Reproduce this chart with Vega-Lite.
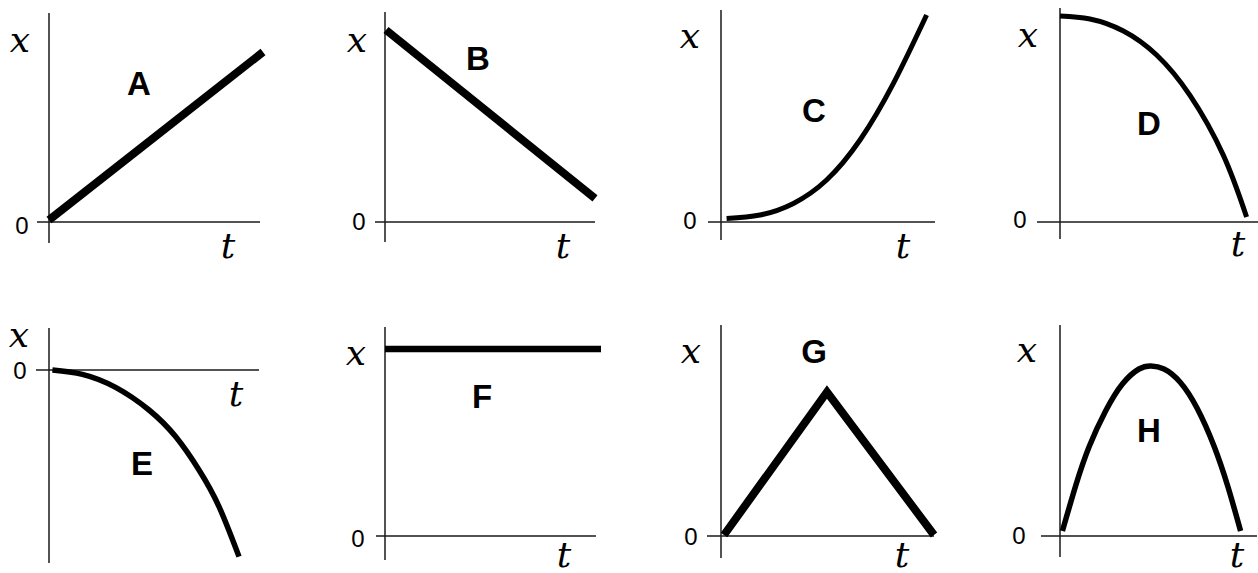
{
"$schema": "https://vega.github.io/schema/vega-lite/v6.json",
"padding": 0,
"background": "#ffffff",
"bounds": "flush",
"columns": 4,
"spacing": {"row": 55, "column": 37},
"config": {"view": {"stroke": null}},
"datasets": {
"curves": [
{"panel":"A","t":0,"x":0.01},{"panel":"A","t":1.07,"x":0.85},
{"panel":"B","t":0.005,"x":0.96},{"panel":"B","t":1.05,"x":0.118},
{"panel":"C","t":0.028,"x":0.018},{"panel":"C","t":0.195,"x":0.035},{"panel":"C","t":0.362,"x":0.093},{"panel":"C","t":0.528,"x":0.21},{"panel":"C","t":0.695,"x":0.41},{"panel":"C","t":0.862,"x":0.693},{"panel":"C","t":1.028,"x":1.035},
{"panel":"D","t":0,"x":1.03},{"panel":"D","t":0.15,"x":1.015},{"panel":"D","t":0.317,"x":0.955},{"panel":"D","t":0.483,"x":0.835},{"panel":"D","t":0.65,"x":0.633},{"panel":"D","t":0.817,"x":0.333},{"panel":"D","t":0.933,"x":0.025},
{"panel":"E","t":0.017,"x":0},{"panel":"E","t":0.167,"x":-0.022},{"panel":"E","t":0.333,"x":-0.087},{"panel":"E","t":0.5,"x":-0.2},{"panel":"E","t":0.633,"x":-0.333},{"panel":"E","t":0.75,"x":-0.5},{"panel":"E","t":0.85,"x":-0.683},{"panel":"E","t":0.95,"x":-0.933},
{"panel":"F","t":0,"x":0.935},{"panel":"F","t":1.08,"x":0.935},
{"panel":"G","t":0.015,"x":0.005},{"panel":"G","t":0.53,"x":0.72},{"panel":"G","t":1.065,"x":0.005},
{"panel":"H","t":0.012,"x":0.025},{"panel":"H","t":0.078,"x":0.25},{"panel":"H","t":0.145,"x":0.445},{"panel":"H","t":0.228,"x":0.625},{"panel":"H","t":0.312,"x":0.76},{"panel":"H","t":0.395,"x":0.835},{"panel":"H","t":0.455,"x":0.85},{"panel":"H","t":0.52,"x":0.835},{"panel":"H","t":0.6,"x":0.77},{"panel":"H","t":0.685,"x":0.64},{"panel":"H","t":0.77,"x":0.45},{"panel":"H","t":0.84,"x":0.245},{"panel":"H","t":0.903,"x":0.025}
],
"vaxes": [
{"panel":"A","t":0,"x":1.045,"x2":-0.105},
{"panel":"B","t":0,"x":1.05,"x2":-0.1},
{"panel":"C","t":0,"x":1.06,"x2":-0.09},
{"panel":"D","t":0,"x":1.07,"x2":-0.085},
{"panel":"E","t":0,"x":0.21,"x2":-0.965},
{"panel":"F","t":0,"x":1.045,"x2":-0.12},
{"panel":"G","t":0,"x":1.055,"x2":-0.11},
{"panel":"H","t":0,"x":1.055,"x2":-0.105}
],
"haxes": [
{"panel":"A","t":-0.06,"t2":1.055,"x":0},
{"panel":"B","t":-0.05,"t2":1.05,"x":0},
{"panel":"C","t":-0.065,"t2":1.07,"x":0},
{"panel":"D","t":-0.115,"t2":0.99,"x":0},
{"panel":"E","t":-0.065,"t2":1.05,"x":0},
{"panel":"F","t":-0.045,"t2":1.055,"x":0},
{"panel":"G","t":-0.07,"t2":1.065,"x":0},
{"panel":"H","t":-0.095,"t2":0.985,"x":0}
],
"labels": [
{"panel":"A","kind":"math","label":"x","t":-0.145,"x":0.905},{"panel":"A","kind":"math","label":"t","t":0.895,"x":-0.125},{"panel":"A","kind":"zero","label":"0","t":-0.135,"x":-0.025},{"panel":"A","kind":"letter","label":"A","t":0.45,"x":0.685},
{"panel":"B","kind":"math","label":"x","t":-0.14,"x":0.905},{"panel":"B","kind":"math","label":"t","t":0.89,"x":-0.125},{"panel":"B","kind":"zero","label":"0","t":-0.13,"x":-0.005},{"panel":"B","kind":"letter","label":"B","t":0.465,"x":0.81},
{"panel":"C","kind":"math","label":"x","t":-0.155,"x":0.925},{"panel":"C","kind":"math","label":"t","t":0.91,"x":-0.125},{"panel":"C","kind":"zero","label":"0","t":-0.155,"x":0},{"panel":"C","kind":"letter","label":"C","t":0.465,"x":0.55},
{"panel":"D","kind":"math","label":"x","t":-0.16,"x":0.93},{"panel":"D","kind":"math","label":"t","t":0.89,"x":-0.115},{"panel":"D","kind":"zero","label":"0","t":-0.2,"x":0.005},{"panel":"D","kind":"letter","label":"D","t":0.445,"x":0.485},
{"panel":"E","kind":"math","label":"x","t":-0.15,"x":0.17},{"panel":"E","kind":"math","label":"t","t":0.935,"x":-0.125},{"panel":"E","kind":"zero","label":"0","t":-0.145,"x":-0.01},{"panel":"E","kind":"letter","label":"E","t":0.465,"x":-0.475},
{"panel":"F","kind":"math","label":"x","t":-0.145,"x":0.91},{"panel":"F","kind":"math","label":"t","t":0.895,"x":-0.1},{"panel":"F","kind":"zero","label":"0","t":-0.135,"x":-0.02},{"panel":"F","kind":"letter","label":"F","t":0.485,"x":0.69},
{"panel":"G","kind":"math","label":"x","t":-0.15,"x":0.92},{"panel":"G","kind":"math","label":"t","t":0.905,"x":-0.1},{"panel":"G","kind":"zero","label":"0","t":-0.15,"x":-0.01},{"panel":"G","kind":"letter","label":"G","t":0.465,"x":0.915},
{"panel":"H","kind":"math","label":"x","t":-0.165,"x":0.925},{"panel":"H","kind":"math","label":"t","t":0.885,"x":-0.1},{"panel":"H","kind":"zero","label":"0","t":-0.205,"x":-0.005},{"panel":"H","kind":"letter","label":"H","t":0.445,"x":0.52}
]
},
"concat": [
{"width":299,"height":259,
 "encoding":{"x":{"field":"t","type":"quantitative","axis":null,"scale":{"domain":[-0.245,1.25],"nice":false,"zero":false}},"y":{"field":"x","type":"quantitative","axis":null,"scale":{"domain":[-0.185,1.11],"nice":false,"zero":false}}},
 "layer":[
  {"data":{"name":"vaxes"},"transform":[{"filter":"datum.panel==='A'"}],"mark":{"type":"rule","color":"#1a1a1a","strokeWidth":1.5},"encoding":{"y2":{"field":"x2"}}},
  {"data":{"name":"haxes"},"transform":[{"filter":"datum.panel==='A'"}],"mark":{"type":"rule","color":"#1a1a1a","strokeWidth":1.5},"encoding":{"x2":{"field":"t2"}}},
  {"data":{"name":"curves"},"transform":[{"filter":"datum.panel==='A'"}],"mark":{"type":"line","color":"#000","strokeWidth":8,"strokeCap":"butt","interpolate":"linear"}},
  {"data":{"name":"labels"},"transform":[{"filter":"datum.panel==='A' && datum.kind==='math'"}],"mark":{"type":"text","font":"DejaVu Serif","fontStyle":"italic","fontSize":36,"color":"#000"},"encoding":{"text":{"field":"label"}}},
  {"data":{"name":"labels"},"transform":[{"filter":"datum.panel==='A' && datum.kind==='zero'"}],"mark":{"type":"text","font":"Liberation Sans","fontSize":24,"color":"#000"},"encoding":{"text":{"field":"label"}}},
  {"data":{"name":"labels"},"transform":[{"filter":"datum.panel==='A' && datum.kind==='letter'"}],"mark":{"type":"text","font":"Liberation Sans","fontWeight":"bold","fontSize":33,"color":"#000"},"encoding":{"text":{"field":"label"}}}
 ]},
{"width":299,"height":259,
 "encoding":{"x":{"field":"t","type":"quantitative","axis":null,"scale":{"domain":[-0.245,1.25],"nice":false,"zero":false}},"y":{"field":"x","type":"quantitative","axis":null,"scale":{"domain":[-0.185,1.11],"nice":false,"zero":false}}},
 "layer":[
  {"data":{"name":"vaxes"},"transform":[{"filter":"datum.panel==='B'"}],"mark":{"type":"rule","color":"#1a1a1a","strokeWidth":1.5},"encoding":{"y2":{"field":"x2"}}},
  {"data":{"name":"haxes"},"transform":[{"filter":"datum.panel==='B'"}],"mark":{"type":"rule","color":"#1a1a1a","strokeWidth":1.5},"encoding":{"x2":{"field":"t2"}}},
  {"data":{"name":"curves"},"transform":[{"filter":"datum.panel==='B'"}],"mark":{"type":"line","color":"#000","strokeWidth":8,"strokeCap":"butt","interpolate":"linear"}},
  {"data":{"name":"labels"},"transform":[{"filter":"datum.panel==='B' && datum.kind==='math'"}],"mark":{"type":"text","font":"DejaVu Serif","fontStyle":"italic","fontSize":36,"color":"#000"},"encoding":{"text":{"field":"label"}}},
  {"data":{"name":"labels"},"transform":[{"filter":"datum.panel==='B' && datum.kind==='zero'"}],"mark":{"type":"text","font":"Liberation Sans","fontSize":24,"color":"#000"},"encoding":{"text":{"field":"label"}}},
  {"data":{"name":"labels"},"transform":[{"filter":"datum.panel==='B' && datum.kind==='letter'"}],"mark":{"type":"text","font":"Liberation Sans","fontWeight":"bold","fontSize":33,"color":"#000"},"encoding":{"text":{"field":"label"}}}
 ]},
{"width":302,"height":259,
 "encoding":{"x":{"field":"t","type":"quantitative","axis":null,"scale":{"domain":[-0.245,1.265],"nice":false,"zero":false}},"y":{"field":"x","type":"quantitative","axis":null,"scale":{"domain":[-0.185,1.11],"nice":false,"zero":false}}},
 "layer":[
  {"data":{"name":"vaxes"},"transform":[{"filter":"datum.panel==='C'"}],"mark":{"type":"rule","color":"#1a1a1a","strokeWidth":1.5},"encoding":{"y2":{"field":"x2"}}},
  {"data":{"name":"haxes"},"transform":[{"filter":"datum.panel==='C'"}],"mark":{"type":"rule","color":"#1a1a1a","strokeWidth":1.5},"encoding":{"x2":{"field":"t2"}}},
  {"data":{"name":"curves"},"transform":[{"filter":"datum.panel==='C'"}],"mark":{"type":"line","color":"#000","strokeWidth":5,"strokeCap":"butt","interpolate":"natural"}},
  {"data":{"name":"labels"},"transform":[{"filter":"datum.panel==='C' && datum.kind==='math'"}],"mark":{"type":"text","font":"DejaVu Serif","fontStyle":"italic","fontSize":36,"color":"#000"},"encoding":{"text":{"field":"label"}}},
  {"data":{"name":"labels"},"transform":[{"filter":"datum.panel==='C' && datum.kind==='zero'"}],"mark":{"type":"text","font":"Liberation Sans","fontSize":24,"color":"#000"},"encoding":{"text":{"field":"label"}}},
  {"data":{"name":"labels"},"transform":[{"filter":"datum.panel==='C' && datum.kind==='letter'"}],"mark":{"type":"text","font":"Liberation Sans","fontWeight":"bold","fontSize":33,"color":"#000"},"encoding":{"text":{"field":"label"}}}
 ]},
{"width":247,"height":259,
 "encoding":{"x":{"field":"t","type":"quantitative","axis":null,"scale":{"domain":[-0.245,0.99],"nice":false,"zero":false}},"y":{"field":"x","type":"quantitative","axis":null,"scale":{"domain":[-0.185,1.11],"nice":false,"zero":false}}},
 "layer":[
  {"data":{"name":"vaxes"},"transform":[{"filter":"datum.panel==='D'"}],"mark":{"type":"rule","color":"#1a1a1a","strokeWidth":1.5},"encoding":{"y2":{"field":"x2"}}},
  {"data":{"name":"haxes"},"transform":[{"filter":"datum.panel==='D'"}],"mark":{"type":"rule","color":"#1a1a1a","strokeWidth":1.5},"encoding":{"x2":{"field":"t2"}}},
  {"data":{"name":"curves"},"transform":[{"filter":"datum.panel==='D'"}],"mark":{"type":"line","color":"#000","strokeWidth":5,"strokeCap":"butt","interpolate":"natural"}},
  {"data":{"name":"labels"},"transform":[{"filter":"datum.panel==='D' && datum.kind==='math'"}],"mark":{"type":"text","font":"DejaVu Serif","fontStyle":"italic","fontSize":36,"color":"#000"},"encoding":{"text":{"field":"label"}}},
  {"data":{"name":"labels"},"transform":[{"filter":"datum.panel==='D' && datum.kind==='zero'"}],"mark":{"type":"text","font":"Liberation Sans","fontSize":24,"color":"#000"},"encoding":{"text":{"field":"label"}}},
  {"data":{"name":"labels"},"transform":[{"filter":"datum.panel==='D' && datum.kind==='letter'"}],"mark":{"type":"text","font":"Liberation Sans","fontWeight":"bold","fontSize":33,"color":"#000"},"encoding":{"text":{"field":"label"}}}
 ]},
{"width":299,"height":259,
 "encoding":{"x":{"field":"t","type":"quantitative","axis":null,"scale":{"domain":[-0.245,1.25],"nice":false,"zero":false}},"y":{"field":"x","type":"quantitative","axis":null,"scale":{"domain":[-1.015,0.28],"nice":false,"zero":false}}},
 "layer":[
  {"data":{"name":"vaxes"},"transform":[{"filter":"datum.panel==='E'"}],"mark":{"type":"rule","color":"#1a1a1a","strokeWidth":1.5},"encoding":{"y2":{"field":"x2"}}},
  {"data":{"name":"haxes"},"transform":[{"filter":"datum.panel==='E'"}],"mark":{"type":"rule","color":"#1a1a1a","strokeWidth":1.5},"encoding":{"x2":{"field":"t2"}}},
  {"data":{"name":"curves"},"transform":[{"filter":"datum.panel==='E'"}],"mark":{"type":"line","color":"#000","strokeWidth":5.5,"strokeCap":"butt","interpolate":"natural"}},
  {"data":{"name":"labels"},"transform":[{"filter":"datum.panel==='E' && datum.kind==='math'"}],"mark":{"type":"text","font":"DejaVu Serif","fontStyle":"italic","fontSize":36,"color":"#000"},"encoding":{"text":{"field":"label"}}},
  {"data":{"name":"labels"},"transform":[{"filter":"datum.panel==='E' && datum.kind==='zero'"}],"mark":{"type":"text","font":"Liberation Sans","fontSize":24,"color":"#000"},"encoding":{"text":{"field":"label"}}},
  {"data":{"name":"labels"},"transform":[{"filter":"datum.panel==='E' && datum.kind==='letter'"}],"mark":{"type":"text","font":"Liberation Sans","fontWeight":"bold","fontSize":33,"color":"#000"},"encoding":{"text":{"field":"label"}}}
 ]},
{"width":299,"height":259,
 "encoding":{"x":{"field":"t","type":"quantitative","axis":null,"scale":{"domain":[-0.245,1.25],"nice":false,"zero":false}},"y":{"field":"x","type":"quantitative","axis":null,"scale":{"domain":[-0.185,1.11],"nice":false,"zero":false}}},
 "layer":[
  {"data":{"name":"vaxes"},"transform":[{"filter":"datum.panel==='F'"}],"mark":{"type":"rule","color":"#1a1a1a","strokeWidth":1.5},"encoding":{"y2":{"field":"x2"}}},
  {"data":{"name":"haxes"},"transform":[{"filter":"datum.panel==='F'"}],"mark":{"type":"rule","color":"#1a1a1a","strokeWidth":1.5},"encoding":{"x2":{"field":"t2"}}},
  {"data":{"name":"curves"},"transform":[{"filter":"datum.panel==='F'"}],"mark":{"type":"line","color":"#000","strokeWidth":6.5,"strokeCap":"butt","interpolate":"linear"}},
  {"data":{"name":"labels"},"transform":[{"filter":"datum.panel==='F' && datum.kind==='math'"}],"mark":{"type":"text","font":"DejaVu Serif","fontStyle":"italic","fontSize":36,"color":"#000"},"encoding":{"text":{"field":"label"}}},
  {"data":{"name":"labels"},"transform":[{"filter":"datum.panel==='F' && datum.kind==='zero'"}],"mark":{"type":"text","font":"Liberation Sans","fontSize":24,"color":"#000"},"encoding":{"text":{"field":"label"}}},
  {"data":{"name":"labels"},"transform":[{"filter":"datum.panel==='F' && datum.kind==='letter'"}],"mark":{"type":"text","font":"Liberation Sans","fontWeight":"bold","fontSize":33,"color":"#000"},"encoding":{"text":{"field":"label"}}}
 ]},
{"width":302,"height":259,
 "encoding":{"x":{"field":"t","type":"quantitative","axis":null,"scale":{"domain":[-0.245,1.265],"nice":false,"zero":false}},"y":{"field":"x","type":"quantitative","axis":null,"scale":{"domain":[-0.185,1.11],"nice":false,"zero":false}}},
 "layer":[
  {"data":{"name":"vaxes"},"transform":[{"filter":"datum.panel==='G'"}],"mark":{"type":"rule","color":"#1a1a1a","strokeWidth":1.5},"encoding":{"y2":{"field":"x2"}}},
  {"data":{"name":"haxes"},"transform":[{"filter":"datum.panel==='G'"}],"mark":{"type":"rule","color":"#1a1a1a","strokeWidth":1.5},"encoding":{"x2":{"field":"t2"}}},
  {"data":{"name":"curves"},"transform":[{"filter":"datum.panel==='G'"}],"mark":{"type":"line","color":"#000","strokeWidth":8,"strokeCap":"butt","strokeJoin":"miter","interpolate":"linear"}},
  {"data":{"name":"labels"},"transform":[{"filter":"datum.panel==='G' && datum.kind==='math'"}],"mark":{"type":"text","font":"DejaVu Serif","fontStyle":"italic","fontSize":36,"color":"#000"},"encoding":{"text":{"field":"label"}}},
  {"data":{"name":"labels"},"transform":[{"filter":"datum.panel==='G' && datum.kind==='zero'"}],"mark":{"type":"text","font":"Liberation Sans","fontSize":24,"color":"#000"},"encoding":{"text":{"field":"label"}}},
  {"data":{"name":"labels"},"transform":[{"filter":"datum.panel==='G' && datum.kind==='letter'"}],"mark":{"type":"text","font":"Liberation Sans","fontWeight":"bold","fontSize":33,"color":"#000"},"encoding":{"text":{"field":"label"}}}
 ]},
{"width":247,"height":259,
 "encoding":{"x":{"field":"t","type":"quantitative","axis":null,"scale":{"domain":[-0.245,0.99],"nice":false,"zero":false}},"y":{"field":"x","type":"quantitative","axis":null,"scale":{"domain":[-0.185,1.11],"nice":false,"zero":false}}},
 "layer":[
  {"data":{"name":"vaxes"},"transform":[{"filter":"datum.panel==='H'"}],"mark":{"type":"rule","color":"#1a1a1a","strokeWidth":1.5},"encoding":{"y2":{"field":"x2"}}},
  {"data":{"name":"haxes"},"transform":[{"filter":"datum.panel==='H'"}],"mark":{"type":"rule","color":"#1a1a1a","strokeWidth":1.5},"encoding":{"x2":{"field":"t2"}}},
  {"data":{"name":"curves"},"transform":[{"filter":"datum.panel==='H'"}],"mark":{"type":"line","color":"#000","strokeWidth":5.5,"strokeCap":"butt","interpolate":"natural"}},
  {"data":{"name":"labels"},"transform":[{"filter":"datum.panel==='H' && datum.kind==='math'"}],"mark":{"type":"text","font":"DejaVu Serif","fontStyle":"italic","fontSize":36,"color":"#000"},"encoding":{"text":{"field":"label"}}},
  {"data":{"name":"labels"},"transform":[{"filter":"datum.panel==='H' && datum.kind==='zero'"}],"mark":{"type":"text","font":"Liberation Sans","fontSize":24,"color":"#000"},"encoding":{"text":{"field":"label"}}},
  {"data":{"name":"labels"},"transform":[{"filter":"datum.panel==='H' && datum.kind==='letter'"}],"mark":{"type":"text","font":"Liberation Sans","fontWeight":"bold","fontSize":33,"color":"#000"},"encoding":{"text":{"field":"label"}}}
 ]}
]
}
